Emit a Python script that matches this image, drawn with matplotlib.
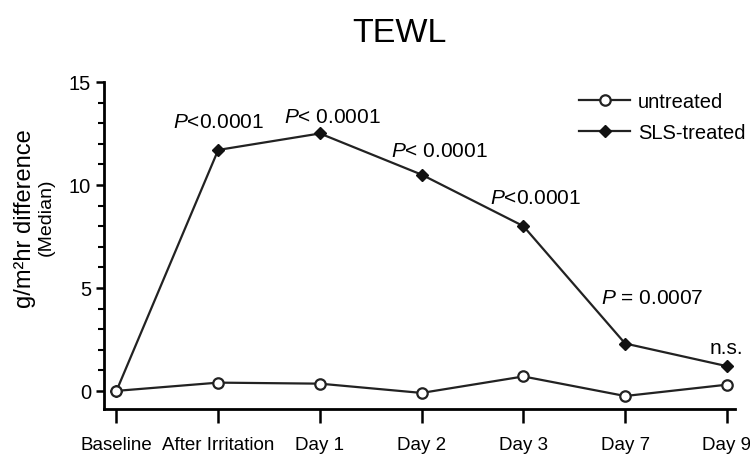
import matplotlib
matplotlib.use("Agg")
import matplotlib.pyplot as plt
from matplotlib.ticker import MultipleLocator

plt.rcParams['font.family'] = ['Liberation Sans', 'DejaVu Sans']
plt.rcParams['mathtext.fontset'] = 'custom'
plt.rcParams['mathtext.it'] = 'Liberation Sans:italic'
plt.rcParams['mathtext.rm'] = 'Liberation Sans'

labels = ["Baseline", "After Irritation", "Day 1", "Day 2", "Day 3", "Day 7", "Day 9"]
untreated = [0.0, 0.4, 0.35, -0.1, 0.7, -0.25, 0.3]
sls = [0.0, 11.7, 12.5, 10.5, 8.0, 2.3, 1.2]

# significance labels and where they sit (category index, y value)
notes = ["$P$<0.0001", "$P$< 0.0001", "$P$< 0.0001", "$P$<0.0001", "$P$ = 0.0007", "n.s."]
note_x = [1.0, 2.12, 3.17, 4.12, 5.27, 6.0]
note_y = [13.1, 13.3, 11.65, 9.4, 4.55, 2.1]

fig = plt.figure(figsize=(7.5, 4.56), dpi=100)
ax = fig.add_axes([0.139, 0.10, 0.841, 0.718])

x = list(range(len(labels)))
ax.plot(x, sls, color="#222222", lw=1.6, marker="D", ms=6.5,
        mfc="#111111", mec="#111111", label="SLS-treated", zorder=3)
ax.plot(x, untreated, color="#222222", lw=1.6, marker="o", ms=7.5,
        mfc="white", mec="#222222", mew=1.6, label="untreated", zorder=4)

for xi, yi, t in zip(note_x, note_y, notes):
    ax.text(xi, yi, t, ha="center", va="center", fontsize=15)

ax.set_xlim(-0.12, 6.08)
ax.set_ylim(-0.9, 15)
ax.set_xticks(x)
ax.set_xticklabels(labels, fontsize=13.5)
ax.yaxis.set_major_locator(MultipleLocator(5))
ax.yaxis.set_minor_locator(MultipleLocator(1))
ax.tick_params(axis="y", labelsize=14.5, length=6, width=1.8)
ax.tick_params(axis="y", which="minor", length=4, width=1.5)
ax.tick_params(axis="x", length=10, width=1.8, pad=9)
for s in ["top", "right"]:
    ax.spines[s].set_visible(False)
for s in ["left", "bottom"]:
    ax.spines[s].set_linewidth(2)

fig.text(0.034, 0.52, "g/m²hr difference", rotation=90, fontsize=17,
         ha="center", va="center")
fig.text(0.061, 0.524, "(Median)", rotation=90, fontsize=14,
         ha="center", va="center")

# legend entries in the reference order
h, l = ax.get_legend_handles_labels()
ax.legend(h[::-1], l[::-1], loc="upper right", bbox_to_anchor=(1.045, 1.025),
          frameon=False, fontsize=14.5, handlelength=2.5, labelspacing=0.6,
          handletextpad=0.4)

fig.suptitle("TEWL", y=0.96, x=0.532, fontsize=24.5)

fig.savefig("out.png", dpi=100)
